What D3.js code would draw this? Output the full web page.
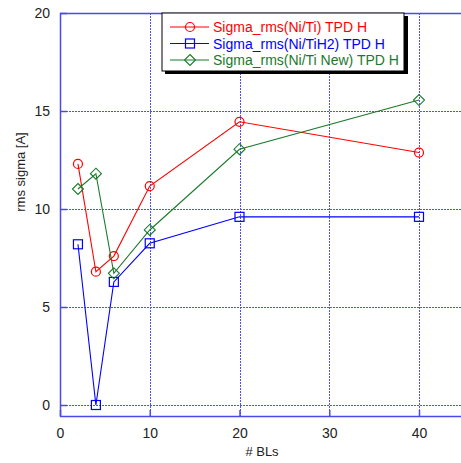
<!DOCTYPE html>
<html><head><meta charset="utf-8">
<script src="https://cdn.jsdelivr.net/npm/d3@7/dist/d3.min.js"></script>
<style>body{margin:0;background:#fff}svg{display:block}text{font-family:"Liberation Sans",Arial,sans-serif}</style>
</head><body><svg id="c" width="461" height="463"></svg>
<script>
const xs = [2, 4, 6, 10, 20, 40];
const niTi = [12.3, 6.8, 7.6, 11.17, 14.45, 12.88];
const niTiH2 = [8.2, 0, 6.28, 8.25, 9.6, 9.6];
const niTiNew = [11.02, 11.8, 6.72, 8.93, 13.05, 15.56];
const xTicks = [0, 10, 20, 30, 40];
const yTicks = [0, 5, 10, 15, 20];
const seriesNames = ["Sigma_rms(Ni/Ti) TPD H", "Sigma_rms(Ni/TiH2) TPD H", "Sigma_rms(Ni/Ti New) TPD H"];
const colors = ["#ff0000", "#0000ff", "#1a7a2a"];
const shapes = ["circle", "square", "diamond"];
const seriesVals = [niTi, niTiH2, niTiNew];

const svg = d3.select("#c");
const L = 60, T = 13, B = 416;
const x = d3.scaleLinear().domain([0, 40]).range([60, 419]);
const y = d3.scaleLinear().domain([0, 20]).range([405, 13]);
const axisCol = "#4a4ae8";
const font = '"Liberation Sans",Arial,sans-serif';

// grid
const g = svg.append("g").attr("shape-rendering", "crispEdges");
xTicks.filter(d => d > 0).forEach(d => {
  const px = Math.round(x(d)) + 0.5;
  g.append("line").attr("x1", px).attr("x2", px).attr("y1", T).attr("y2", B)
    .attr("stroke", "#5050ff").attr("stroke-dasharray", "2,1").attr("stroke-width", 1);
});
yTicks.filter(d => d < 20).forEach(d => {
  const py = Math.round(y(d)) + 0.5;
  g.append("line").attr("x1", L).attr("x2", 461).attr("y1", py).attr("y2", py)
    .attr("stroke", "#5050ff").attr("stroke-dasharray", "2,1").attr("stroke-width", 1);
});

// axes with d3
const xAxis = d3.axisBottom(x).tickValues(xTicks).tickSize(-6).tickPadding(12);
const xa = svg.append("g").attr("transform", `translate(0,${B})`).call(xAxis);
xa.select(".domain").remove();
xa.selectAll("line").attr("stroke", axisCol).attr("stroke-width", 1.5);
xa.selectAll("text").attr("font-size", 14).attr("fill", "#222").attr("font-family", font);

const yAxis = d3.axisLeft(y).tickValues(yTicks).tickSize(-7).tickPadding(10);
const ya = svg.append("g").attr("transform", `translate(${L},0)`).call(yAxis);
ya.select(".domain").remove();
ya.selectAll("line").attr("stroke", axisCol).attr("stroke-width", 1.5);
ya.selectAll("text").attr("font-size", 14).attr("fill", "#222").attr("font-family", font);

// axes frame
svg.append("line").attr("x1", L+0.5).attr("x2", L+0.5).attr("y1", T).attr("y2", B+1).attr("stroke", axisCol).attr("stroke-width", 1.5);
svg.append("line").attr("x1", L).attr("x2", 461).attr("y1", B+0.5).attr("y2", B+0.5).attr("stroke", axisCol).attr("stroke-width", 1.5);
svg.append("line").attr("x1", L).attr("x2", 461).attr("y1", T+0.5).attr("y2", T+0.5).attr("stroke", axisCol).attr("stroke-width", 1.5);

svg.append("text").attr("x", 262).attr("y", 456).attr("text-anchor", "middle").attr("font-size", 13).attr("fill", "#222").text("# BLs");
svg.append("text").attr("transform", "translate(25,172) rotate(-90)").attr("text-anchor", "middle").attr("font-size", 13).attr("fill", "#222").text("rms sigma [A]");

function marker(sel, shape, cx, cy, col) {
  if (shape === "circle") sel.append("circle").attr("cx", cx).attr("cy", cy).attr("r", 4.5).attr("fill", "none").attr("stroke", col).attr("stroke-width", 1.2);
  else if (shape === "square") sel.append("rect").attr("x", cx-4.5).attr("y", cy-4.5).attr("width", 9).attr("height", 9).attr("fill", "none").attr("stroke", col).attr("stroke-width", 1.2);
  else sel.append("path").attr("d", `M${cx},${cy-5.5}L${cx+5.5},${cy}L${cx},${cy+5.5}L${cx-5.5},${cy}Z`).attr("fill", "none").attr("stroke", col).attr("stroke-width", 1.1);
}

const line = d3.line().x(d => x(d[0])).y(d => y(d[1]));
seriesVals.forEach((vals, i) => {
  const pts = xs.map((xv, j) => [xv, vals[j]]);
  svg.append("path").attr("d", line(pts)).attr("fill", "none").attr("stroke", colors[i]).attr("stroke-width", 1.1);
  const mg = svg.append("g");
  pts.forEach(p => marker(mg, shapes[i], x(p[0]), y(p[1]), colors[i]));
});

// legend
const lg = svg.append("g");
lg.append("rect").attr("x", 165).attr("y", 16).attr("width", 243).attr("height", 58).attr("fill", "#000");
lg.append("rect").attr("x", 162).attr("y", 13).attr("width", 242).attr("height", 58).attr("fill", "#fff").attr("stroke", "#000").attr("stroke-width", 1);
seriesNames.forEach((n, i) => {
  const cy = 27 + i * 16.5;
  lg.append("line").attr("x1", 170).attr("x2", 209).attr("y1", cy).attr("y2", cy).attr("stroke", colors[i]).attr("stroke-width", 1.1);
  marker(lg, shapes[i], 190, cy, colors[i]);
  lg.append("text").attr("x", 213).attr("y", cy + 5).attr("font-size", 14).attr("fill", colors[i]).text(n);
});
</script></body></html>
